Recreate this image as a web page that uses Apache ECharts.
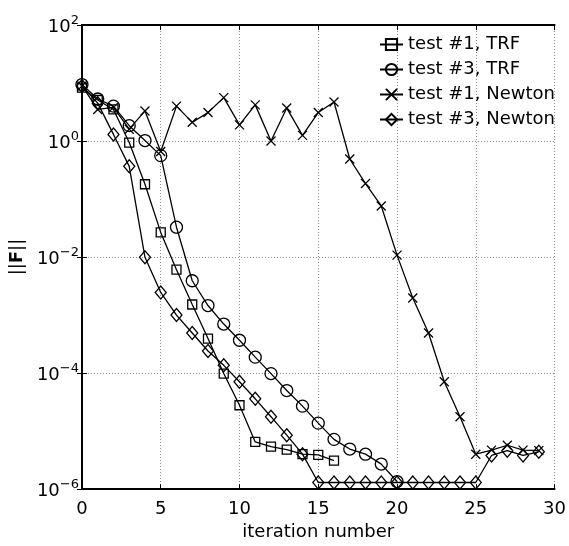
<!DOCTYPE html>
<html>
<head>
<meta charset="utf-8">
<script src="https://cdn.jsdelivr.net/npm/echarts@6/dist/echarts.min.js"></script>
<style>
  html, body { margin: 0; padding: 0; background: #fff; }
  #chart { width: 569px; height: 546px; }
</style>
</head>
<body>
<div id="chart"></div>
<script>
// Residual norm per iteration for two test problems, solved by TRF and Newton
const iterations = Array.from({ length: 30 }, (_, i) => i);

const test1TRF = [8.3, 5.1, 3.5, 0.94, 0.18, 0.0266, 0.00605, 0.00152, 3.93e-4, 9.8e-5,
  2.79e-5, 6.5e-6, 5.4e-6, 4.8e-6, 4.0e-6, 3.9e-6, 3.1e-6];

const test3TRF = [9.4, 5.3, 4.0, 1.84, 1.02, 0.56, 0.0327, 0.0039, 0.00146, 7.0e-4,
  3.68e-4, 1.88e-4, 9.8e-5, 5.0e-5, 2.69e-5, 1.37e-5, 7.2e-6, 4.9e-6, 4.0e-6, 2.7e-6,
  1.35e-6];

const test1Newton = [8.9, 3.5, 3.8, 1.6, 3.3, 0.66, 4.0, 2.1, 3.1, 5.6,
  1.9, 4.2, 1.0, 3.7, 1.25, 3.1, 4.7, 0.49, 0.185, 0.076,
  0.0108, 0.00197, 4.9e-4, 7.1e-5, 1.77e-5, 4.0e-6, 4.7e-6, 5.7e-6, 4.7e-6, 4.6e-6];

const test3Newton = [8.9, 4.5, 1.3, 0.366, 0.0099, 0.00245, 0.001, 4.9e-4, 2.4e-4, 1.36e-4,
  7.1e-5, 3.6e-5, 1.77e-5, 8.5e-6, 4.0e-6, 1.3e-6, 1.3e-6, 1.3e-6, 1.3e-6, 1.3e-6,
  1.3e-6, 1.3e-6, 1.3e-6, 1.3e-6, 1.3e-6, 1.3e-6, 3.8e-6, 4.6e-6, 3.8e-6, 4.4e-6];

const seriesNames = ['test #1, TRF', 'test #3, TRF', 'test #1, Newton', 'test #3, Newton'];
const xTicks = [0, 5, 10, 15, 20, 25, 30];

const FONT = 'DejaVu Sans';
const INK = '#000';

const pair = (vals) => vals.map((v, i) => [iterations[i], v]);

const crossPath = 'path://M0,0L10,10M10,0L0,10';

function makeSeries(name, vals, symbol, size) {
  return {
    name,
    type: 'line',
    data: pair(vals),
    symbol,
    symbolSize: size,
    symbolKeepAspect: true,
    showAllSymbol: true,
    lineStyle: { color: INK, width: 1.3 },
    itemStyle: { color: 'none', borderColor: INK, borderWidth: 1.3 },
    emphasis: { disabled: true },
    animation: false
  };
}

const supMinus = (n) => (n < 0 ? '\u2212' + Math.abs(n) : String(n));

const chart = echarts.init(document.getElementById('chart'), null, { renderer: 'canvas' });

const boxLine = { show: true, lineStyle: { color: INK, width: 2 } };
const gridDots = { show: true, lineStyle: { color: '#8c8c8c', width: 1, type: [1, 2] } };

chart.setOption({
  backgroundColor: '#fff',
  animation: false,
  grid: { left: 81, right: 12, top: 25, bottom: 45, containLabel: false },
  legend: {
    orient: 'vertical',
    left: 374,
    top: 29,
    itemWidth: 23,
    itemHeight: 14,
    itemGap: 4,
    data: seriesNames,
    textStyle: { fontFamily: FONT, fontSize: 18, color: INK, lineHeight: 21 },
    inactiveColor: INK,
    selectedMode: false
  },
  xAxis: [
    {
      type: 'value',
      min: xTicks[0],
      max: xTicks[xTicks.length - 1],
      interval: 5,
      position: 'bottom',
      axisLine: boxLine,
      axisTick: { show: true, inside: true, length: 5, lineStyle: { color: INK, width: 1 } },
      axisLabel: { show: true, margin: 11, fontFamily: FONT, fontSize: 18, color: INK },
      splitLine: gridDots,
      name: 'iteration number',
      nameLocation: 'middle',
      nameGap: 27,
      nameTextStyle: { fontFamily: FONT, fontSize: 18, color: INK }
    },
    {
      type: 'value',
      min: xTicks[0],
      max: xTicks[xTicks.length - 1],
      interval: 5,
      position: 'top',
      axisLine: boxLine,
      axisTick: { show: true, inside: true, length: 5, lineStyle: { color: INK, width: 1 } },
      axisLabel: { show: false },
      splitLine: { show: false }
    }
  ],
  yAxis: [
    {
      type: 'log',
      logBase: 10,
      min: 1e-6,
      max: 1e2,
      interval: 2,
      position: 'left',
      axisLine: boxLine,
      axisTick: { show: true, inside: true, length: 5, lineStyle: { color: INK, width: 1 } },
      axisLabel: {
        show: true,
        margin: 3,
        formatter: (v) => '{b|10}{s|' + supMinus(Math.round(Math.log10(v))) + '}',
        rich: {
          b: { fontFamily: FONT, fontSize: 18, color: INK, padding: [4, 0, 0, 0] },
          s: { fontFamily: FONT, fontSize: 13, color: INK, padding: [0, 0, 8, 0] }
        }
      },
      splitLine: gridDots,
      minorTick: { show: false },
      name: '||{f|F}||',
      nameLocation: 'middle',
      nameRotate: 90,
      nameGap: 42,
      nameTextStyle: {
        fontFamily: FONT, fontSize: 18, color: INK,
        rich: { f: { fontFamily: FONT, fontSize: 18, fontWeight: 'bold', color: INK } }
      }
    },
    {
      type: 'log',
      logBase: 10,
      min: 1e-6,
      max: 1e2,
      interval: 2,
      position: 'right',
      axisLine: boxLine,
      axisTick: { show: true, inside: true, length: 5, lineStyle: { color: INK, width: 1 } },
      axisLabel: { show: false },
      splitLine: { show: false }
    }
  ],
  series: [
    makeSeries(seriesNames[0], test1TRF, 'rect', 9),
    makeSeries(seriesNames[1], test3TRF, 'circle', 12),
    makeSeries(seriesNames[2], test1Newton, crossPath, 9),
    makeSeries(seriesNames[3], test3Newton, 'diamond', [11, 13])
  ]
});
</script>
</body>
</html>
